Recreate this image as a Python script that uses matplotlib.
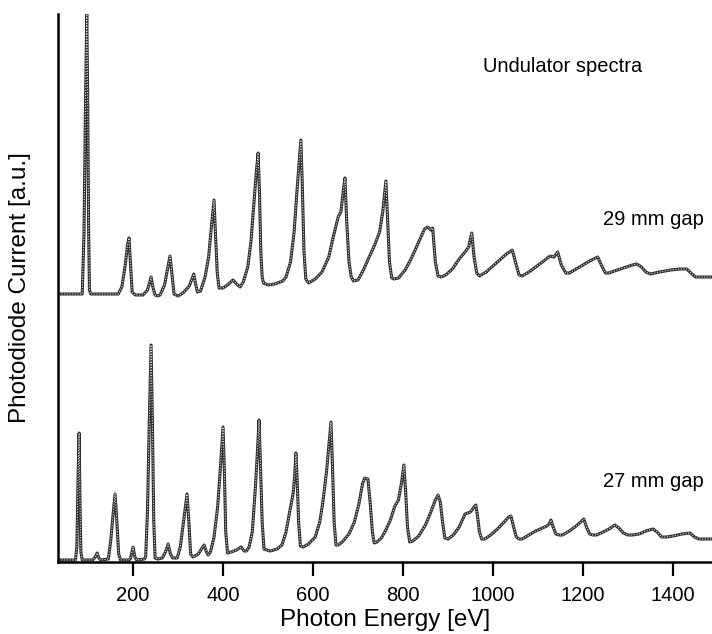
import matplotlib
matplotlib.use("Agg")
import matplotlib.pyplot as plt

plt.rcParams['font.family'] = ['Liberation Sans', 'DejaVu Sans']

# 29 mm gap spectrum (photon energy [eV], photodiode current [a.u.])
gap29_energy = [35, 87, 91, 94, 97, 99, 101, 103, 106,
                167, 175, 182, 188, 191, 194, 198, 205,
                222, 232, 240, 244, 249, 255,
                260, 270, 278, 282, 286, 291, 300,
                311, 325, 335, 339, 343, 350,
                360, 368, 374, 380, 383, 387, 391, 400,
                410, 422, 430, 438,
                445, 455, 462, 468, 474, 478, 481, 484, 487, 490,
                500, 515, 533, 540, 550, 558, 565, 573, 576, 580, 584, 590,
                605, 620, 635, 645, 656, 662, 667, 671, 675, 680, 685, 690,
                700, 712, 725, 738, 748, 755, 762, 766, 770, 775, 780,
                790, 805, 820, 835, 848, 855, 862, 866, 872, 878, 885,
                895, 910, 925, 938, 946, 953, 958, 964, 970,
                985, 1000, 1015, 1030, 1043, 1050, 1058, 1065,
                1080, 1095, 1110, 1127, 1136, 1144, 1152, 1162, 1170,
                1185, 1200, 1215, 1233, 1242, 1250, 1258,
                1270, 1290, 1310, 1320, 1330, 1340, 1350,
                1370, 1395, 1415, 1431, 1440, 1450, 1470, 1487]
gap29_current = [268, 268, 330, 450, 548, 470, 340, 272, 268,
                 268, 275, 295, 318, 324, 300, 270, 267,
                 267, 272, 285, 275, 267, 266,
                 267, 277, 296, 306, 290, 268, 266,
                 269, 276, 288, 278, 270, 271,
                 285, 305, 335, 362, 330, 290, 274, 274,
                 277, 282, 278, 275,
                 280, 295, 320, 355, 390, 409, 370, 310, 285, 279,
                 277, 278, 281, 285, 300, 330, 375, 422, 380, 310, 283, 279,
                 283, 290, 305, 325, 345, 350, 370, 384, 340, 300, 285, 281,
                 282, 292, 305, 318, 330, 350, 381, 340, 300, 284, 283,
                 284, 292, 305, 320, 333, 335, 332, 334, 300, 286, 285,
                 287, 293, 303, 310, 315, 329, 305, 289, 286,
                 290, 296, 302, 308, 312, 300, 287, 286,
                 290, 295, 300, 306, 305, 310, 297, 289, 289,
                 293, 297, 301, 305, 296, 289, 289,
                 291, 294, 297, 298, 295, 290, 288,
                 290, 292, 293, 293, 289, 285, 285, 285]

# 27 mm gap spectrum
gap27_energy = [35, 72, 75, 78, 80, 82, 84, 87,
                110, 116, 120, 124, 128,
                145, 150, 155, 160, 164, 168, 172, 190,
                194, 200, 204, 208, 225,
                228, 232, 236, 240, 243, 246, 249, 255,
                265, 272, 278, 283, 288,
                298, 305, 312, 320, 324, 328, 333,
                345, 352, 358, 363, 367,
                372, 380, 388, 395, 400, 403, 406, 410, 418,
                430, 440, 447, 452,
                458, 465, 472, 477, 480, 483, 487, 491, 497,
                505, 520, 531, 540, 548, 556, 559, 562, 565, 568, 572, 578,
                590, 605, 615, 622, 630, 636, 640, 643, 647, 651, 656,
                665, 680, 692, 702, 710, 715, 722, 727, 732, 736, 742,
                752, 762, 772, 782, 790, 797, 802, 806, 810, 815, 822,
                835, 850, 862, 872, 878, 883, 888, 893, 900,
                912, 925, 938, 950, 958, 962, 966, 970, 975, 982,
                995, 1010, 1025, 1035, 1040, 1046, 1052, 1058, 1065,
                1080, 1095, 1110, 1120, 1125, 1129, 1134, 1140, 1147, 1155,
                1170, 1185, 1195, 1202, 1208, 1215, 1222, 1230,
                1245, 1258, 1271, 1280, 1290, 1300, 1310,
                1325, 1340, 1356, 1365, 1375, 1385,
                1400, 1420, 1438, 1448, 1458, 1487]
gap27_current = [2, 2, 15, 90, 129, 60, 10, 2,
                 2, 5, 9, 4, 2,
                 3, 20, 45, 68, 40, 8, 2, 2,
                 3, 15, 5, 2, 3,
                 5, 50, 140, 217, 140, 40, 4, 3,
                 4, 10, 18, 8, 4,
                 4, 15, 40, 68, 40, 8, 5,
                 8, 13, 17, 10, 7,
                 10, 25, 55, 100, 135, 90, 30, 9, 10,
                 12, 15, 11, 11,
                 15, 30, 75, 115, 142, 100, 40, 13, 12,
                 11, 13, 17, 30, 50, 69, 85, 109, 80, 40, 16, 15,
                 18, 25, 40, 60, 90, 120, 140, 100, 40, 17, 17,
                 20, 28, 40, 58, 78, 84, 83, 60, 30, 19, 20,
                 24, 32, 42, 56, 62, 80, 97, 70, 35, 20, 21,
                 26, 37, 50, 62, 67, 60, 40, 24, 23,
                 27, 35, 48, 50, 55, 57, 45, 30, 23, 23,
                 27, 33, 40, 45, 46, 35, 25, 23, 23,
                 27, 31, 34, 36, 38, 42, 35, 28, 27, 27,
                 31, 36, 40, 43, 35, 28, 27, 27,
                 30, 33, 37, 34, 29, 27, 27,
                 28, 31, 33, 30, 25, 25,
                 26, 28, 29, 25, 23, 23]

xticks = [200, 400, 600, 800, 1000, 1200, 1400]

fig = plt.figure(figsize=(7.12, 6.34), dpi=100)
ax = fig.add_axes([57.5 / 712, 72 / 634, 654.5 / 712, 548 / 634])

for e, c in [(gap29_energy, gap29_current), (gap27_energy, gap27_current)]:
    ax.plot(e, c, color='#2e2e2e', lw=2.2, solid_joinstyle='round')
    ax.plot(e, c, color='#e0e0e0', lw=0.8, linestyle=(0, (1, 1.4)))

ax.set_xlim(32, 1487)
ax.set_ylim(0, 548)
ax.set_xticks(xticks)
ax.set_yticks([])
for s in ['top', 'right']:
    ax.spines[s].set_visible(False)
for s in ['left', 'bottom']:
    ax.spines[s].set_linewidth(1.8)
ax.tick_params(axis='x', direction='out', length=10, width=1.6, labelsize=14.5, pad=7)
ax.set_xlabel('Photon Energy [eV]', fontsize=17.5, labelpad=3.5)
ax.set_ylabel('Photodiode Current [a.u.]', fontsize=17.5, labelpad=19)

ax.text(978, 490, 'Undulator spectra', fontsize=14.5, va='baseline', ha='left')
ax.text(1244, 337, '29 mm gap', fontsize=14.5, va='baseline', ha='left')
ax.text(1244, 75, '27 mm gap', fontsize=14.5, va='baseline', ha='left')

fig.savefig('out.png', dpi=100)
